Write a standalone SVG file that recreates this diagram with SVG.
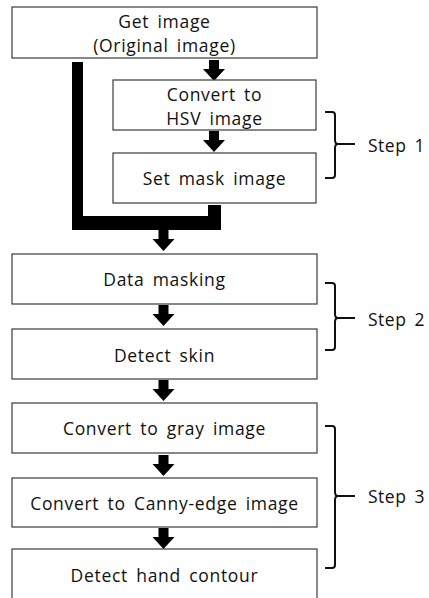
<svg xmlns="http://www.w3.org/2000/svg" width="429" height="598" viewBox="0 0 429 598">
<defs>
<style>
.box{fill:#fff;stroke:#3a3a3a;stroke-width:1.2}
.t{font-family:"Open Sans","Liberation Sans",sans-serif;font-size:17.5px;fill:#111;text-anchor:middle;letter-spacing:0.7px;word-spacing:3px}
.s{font-family:"Open Sans","Liberation Sans",sans-serif;font-size:17.5px;fill:#111;letter-spacing:0.5px;word-spacing:3px}
.br{fill:none;stroke:#111;stroke-width:2}
</style>
<path id="arr" d="M-5,0 H5 V9 H11 L0,21 L-11,9 H-5 Z" fill="#000"/>
</defs>
<rect width="429" height="598" fill="#fff"/>
<g id="connectors">
<path d="M72,62 H83 V216 H208 V205 H221 V230 H72 Z" fill="#000"/>
<use href="#arr" x="214" y="60"/>
<use href="#arr" x="214" y="131"/>
<use href="#arr" x="163.5" y="230"/>
<use href="#arr" x="163.5" y="305"/>
<use href="#arr" x="163.5" y="380"/>
<use href="#arr" x="163.5" y="455"/>
<use href="#arr" x="163.5" y="528"/>
</g>
<g id="n1"><rect class="box" x="12" y="7" width="305" height="51"/><text class="t" x="164.5" y="27.5">Get image</text><text class="t" x="164.5" y="51.5">(Original image)</text></g>
<g id="n2"><rect class="box" x="113" y="80" width="203" height="50"/><text class="t" x="214.5" y="100.5">Convert to</text><text class="t" x="214.5" y="124.5">HSV image</text></g>
<g id="n3"><rect class="box" x="113" y="153" width="203" height="50"/><text class="t" x="214.5" y="185">Set mask image</text></g>
<g id="n4"><rect class="box" x="12" y="254" width="305" height="50"/><text class="t" x="164.5" y="286">Data masking</text></g>
<g id="n5"><rect class="box" x="12" y="329" width="305" height="50"/><text class="t" x="164.5" y="362">Detect skin</text></g>
<g id="n6"><rect class="box" x="12" y="403" width="305" height="50"/><text class="t" x="164.5" y="435">Convert to gray image</text></g>
<g id="n7"><rect class="box" x="12" y="478" width="305" height="49"/><text class="t" x="164.5" y="510">Convert to Canny-edge image</text></g>
<g id="n8"><rect class="box" x="12" y="549" width="305" height="60"/><text class="t" x="164.5" y="582">Detect hand contour</text></g>
<g id="step1"><path class="br" d="M325,112 H332 Q335,112 335,115 V140 Q335,144 338,144 H355 M338,144 Q335,144 335,148 V175 Q335,178 332,178 H325"/><text class="s" x="368" y="152">Step 1</text></g>
<g id="step2"><path class="br" d="M325,283 H332 Q335,283 335,286 V314 Q335,318 338,318 H355 M338,318 Q335,318 335,322 V347 Q335,350 332,350 H325"/><text class="s" x="368" y="326">Step 2</text></g>
<g id="step3"><path class="br" d="M325,426 H332 Q335,426 335,429 V492 Q335,496 338,496 H355 M338,496 Q335,496 335,500 V565 Q335,568 332,568 H325"/><text class="s" x="368" y="503">Step 3</text></g>
</svg>
